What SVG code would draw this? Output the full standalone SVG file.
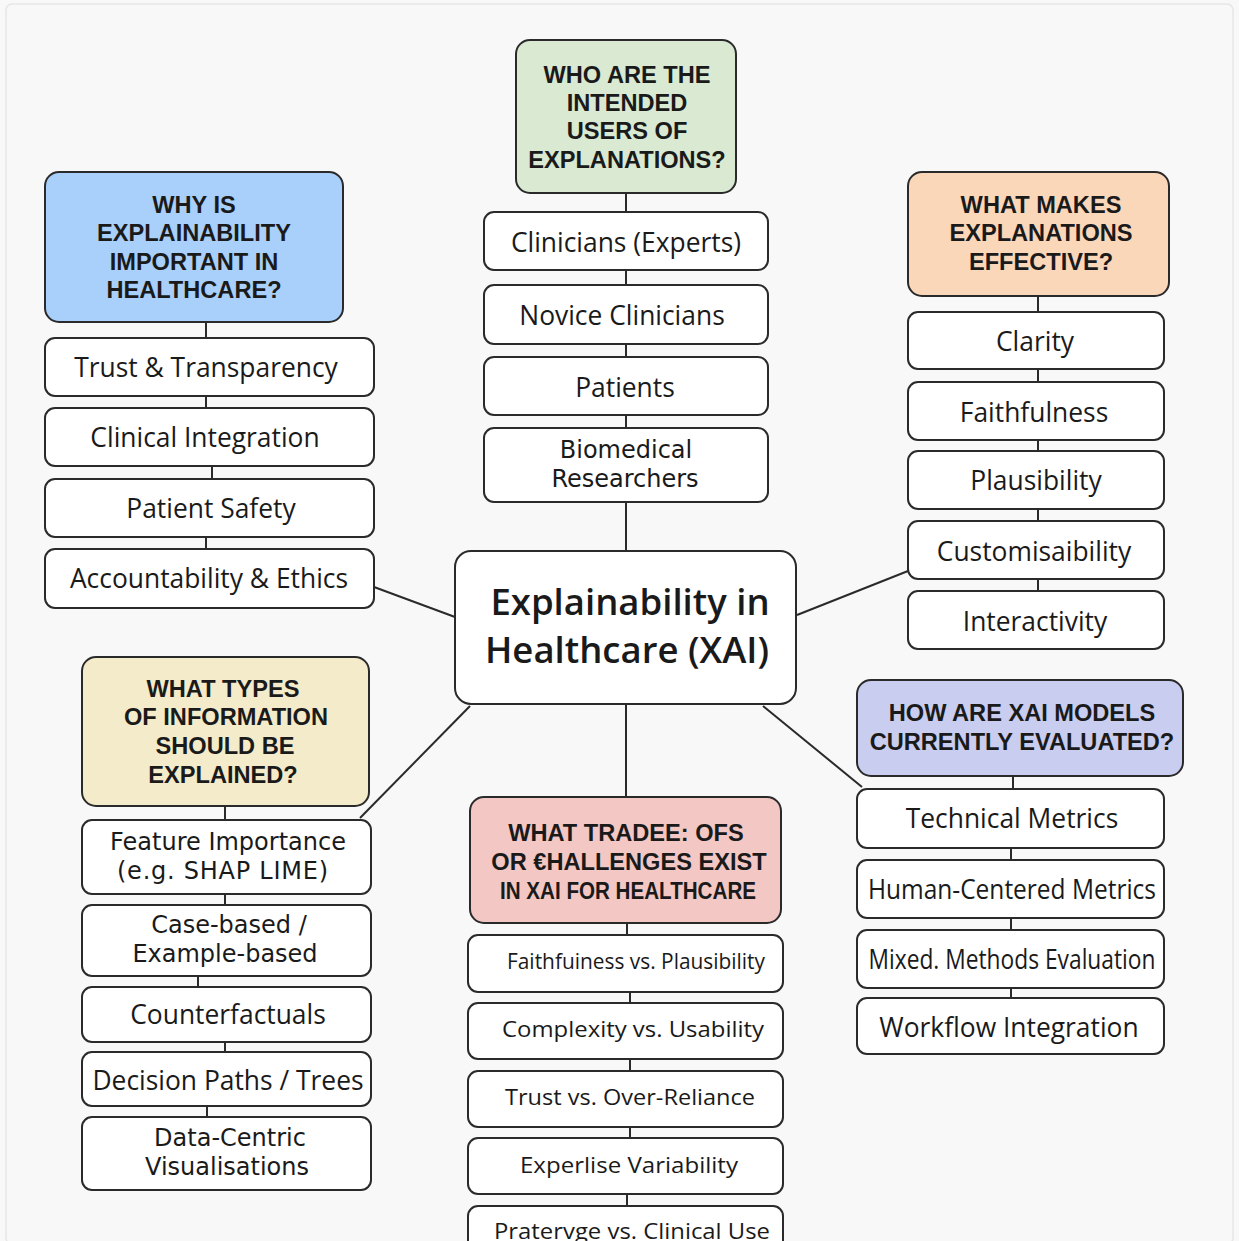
<svg xmlns="http://www.w3.org/2000/svg" width="1239" height="1241" viewBox="0 0 1239 1241">
<style>
.bg{fill:#f8f8f8}
.box{fill:#ffffff;stroke:#2a2a2a;stroke-width:2}
.hdr{stroke:#2a2a2a;stroke-width:2}
.t{font-family:"Open Sans","Noto Sans",sans-serif;font-size:26.4px;fill:#1a1a1a;text-anchor:middle;dominant-baseline:central}
.t2{font-family:"DejaVu Sans","Open Sans",sans-serif;font-size:24px;fill:#1a1a1a;text-anchor:middle;dominant-baseline:central}
.h{font-family:"Liberation Sans",Arial,sans-serif;font-size:23.6px;font-weight:700;fill:#1a1a1a;text-anchor:middle;dominant-baseline:central}
.n{font-family:"Open Sans","Noto Sans",sans-serif;font-size:21px;fill:#1a1a1a;text-anchor:middle;dominant-baseline:central}
.c{font-family:"Open Sans","Noto Sans",sans-serif;font-size:36.5px;font-weight:600;fill:#1a1a1a;text-anchor:middle;dominant-baseline:central}
.ln{stroke:#2a2a2a;stroke-width:2;fill:none}
</style>
<rect class="bg" x="0" y="0" width="1239" height="1241"/>
<rect x="6" y="4" width="1227" height="1240" fill="none" stroke="#e6e6e6" stroke-width="1.5" rx="6"/>

<g id="connectors">
<line class="ln" x1="626" y1="193" x2="626" y2="212"/>
<line class="ln" x1="626" y1="270" x2="626" y2="285"/>
<line class="ln" x1="626" y1="344" x2="626" y2="357"/>
<line class="ln" x1="626" y1="415" x2="626" y2="428"/>
<line class="ln" x1="626" y1="502" x2="626" y2="551"/>
<line class="ln" x1="206" y1="322" x2="206" y2="338"/>
<line class="ln" x1="206" y1="396" x2="206" y2="408"/>
<line class="ln" x1="212" y1="466" x2="212" y2="479"/>
<line class="ln" x1="206" y1="537" x2="206" y2="549"/>
<line class="ln" x1="374" y1="587" x2="455" y2="617"/>
<line class="ln" x1="1038" y1="296" x2="1038" y2="312"/>
<line class="ln" x1="1038" y1="369" x2="1038" y2="382"/>
<line class="ln" x1="1038" y1="440" x2="1038" y2="451"/>
<line class="ln" x1="1038" y1="509" x2="1038" y2="521"/>
<line class="ln" x1="1038" y1="579" x2="1038" y2="591"/>
<line class="ln" x1="797" y1="615" x2="908" y2="571"/>
<line class="ln" x1="225" y1="806" x2="225" y2="820"/>
<line class="ln" x1="225" y1="894" x2="225" y2="905"/>
<line class="ln" x1="198" y1="976" x2="198" y2="987"/>
<line class="ln" x1="225" y1="1042" x2="225" y2="1052"/>
<line class="ln" x1="207" y1="1106" x2="207" y2="1117"/>
<line class="ln" x1="470" y1="706" x2="360" y2="818"/>
<line class="ln" x1="626" y1="704" x2="626" y2="797"/>
<line class="ln" x1="627" y1="923" x2="627" y2="935"/>
<line class="ln" x1="630" y1="992" x2="630" y2="1003"/>
<line class="ln" x1="630" y1="1059" x2="630" y2="1071"/>
<line class="ln" x1="630" y1="1127" x2="630" y2="1138"/>
<line class="ln" x1="627" y1="1194" x2="627" y2="1206"/>
<line class="ln" x1="1013" y1="776" x2="1013" y2="789"/>
<line class="ln" x1="1011" y1="848" x2="1011" y2="860"/>
<line class="ln" x1="1011" y1="918" x2="1011" y2="930"/>
<line class="ln" x1="1011" y1="988" x2="1011" y2="998"/>
<line class="ln" x1="763" y1="706" x2="862" y2="787"/>
</g>

<g id="center">
<rect class="box" x="455" y="551" width="341" height="153" rx="16"/>
<text class="c" x="630" y="601">Explainability in</text>
<text class="c" x="627" y="649">Healthcare (XAI)</text>
</g>

<g id="users-header">
<rect class="hdr" x="516" y="40" width="220" height="153" rx="14" fill="#d9e9d2"/>
<text class="h" x="627" y="75">WHO ARE THE</text>
<text class="h" x="627" y="103">INTENDED</text>
<text class="h" x="627" y="131">USERS OF</text>
<text class="h" x="627" y="160">EXPLANATIONS?</text>
</g>
<g id="users-1"><rect class="box" x="484" y="212" width="284" height="58" rx="10"/><text class="t" x="626" y="242">Clinicians (Experts)</text></g>
<g id="users-2"><rect class="box" x="484" y="285" width="284" height="59" rx="10"/><text class="t" x="622" y="315">Novice Clinicians</text></g>
<g id="users-3"><rect class="box" x="484" y="357" width="284" height="58" rx="10"/><text class="t" x="625" y="387">Patients</text></g>
<g id="users-4"><rect class="box" x="484" y="428" width="284" height="74" rx="10"/><text class="t2" x="626" y="450">Biomedical</text><text class="t2" x="625" y="479">Researchers</text></g>

<g id="why-header">
<rect class="hdr" x="45" y="172" width="298" height="150" rx="14" fill="#a9d0fb"/>
<text class="h" x="194" y="205">WHY IS</text>
<text class="h" x="194" y="233">EXPLAINABILITY</text>
<text class="h" x="194" y="262">IMPORTANT IN</text>
<text class="h" x="194" y="290">HEALTHCARE?</text>
</g>
<g id="why-1"><rect class="box" x="45" y="338" width="329" height="58" rx="10"/><text class="t" x="206" y="367">Trust &amp; Transparency</text></g>
<g id="why-2"><rect class="box" x="45" y="408" width="329" height="58" rx="10"/><text class="t" x="205" y="437">Clinical Integration</text></g>
<g id="why-3"><rect class="box" x="45" y="479" width="329" height="58" rx="10"/><text class="t" x="211" y="508">Patient Safety</text></g>
<g id="why-4"><rect class="box" x="45" y="549" width="329" height="59" rx="10"/><text class="t" x="209" y="578">Accountability &amp; Ethics</text></g>

<g id="effective-header">
<rect class="hdr" x="908" y="172" width="261" height="124" rx="14" fill="#fbd7ba"/>
<text class="h" x="1041" y="205">WHAT MAKES</text>
<text class="h" x="1041" y="233">EXPLANATIONS</text>
<text class="h" x="1041" y="262">EFFECTIVE?</text>
</g>
<g id="eff-1"><rect class="box" x="908" y="312" width="256" height="57" rx="10"/><text class="t" x="1035" y="341">Clarity</text></g>
<g id="eff-2"><rect class="box" x="908" y="382" width="256" height="58" rx="10"/><text class="t" x="1034" y="412">Faithfulness</text></g>
<g id="eff-3"><rect class="box" x="908" y="451" width="256" height="58" rx="10"/><text class="t" x="1036" y="480">Plausibility</text></g>
<g id="eff-4"><rect class="box" x="908" y="521" width="256" height="58" rx="10"/><text class="t" x="1034" y="551">Customisaibility</text></g>
<g id="eff-5"><rect class="box" x="908" y="591" width="256" height="58" rx="10"/><text class="t" x="1035" y="621">Interactivity</text></g>

<g id="types-header">
<rect class="hdr" x="82" y="657" width="287" height="149" rx="14" fill="#f3ebc9"/>
<text class="h" x="223" y="689">WHAT TYPES</text>
<text class="h" x="226" y="717">OF INFORMATION</text>
<text class="h" x="225" y="746">SHOULD BE</text>
<text class="h" x="223" y="775">EXPLAINED?</text>
</g>
<g id="types-1"><rect class="box" x="82" y="820" width="289" height="74" rx="10"/><text class="t2" x="228" y="842">Feature Importance</text><text class="t2" x="222.5" y="871" textLength="211" lengthAdjust="spacing">(e.g.  SHAP LIME)</text></g>
<g id="types-2"><rect class="box" x="82" y="905" width="289" height="71" rx="10"/><text class="t2" x="229" y="925">Case-based /</text><text class="t2" x="225" y="954">Example-based</text></g>
<g id="types-3"><rect class="box" x="82" y="987" width="289" height="55" rx="10"/><text class="t" x="228" y="1014">Counterfactuals</text></g>
<g id="types-4"><rect class="box" x="82" y="1052" width="289" height="54" rx="10"/><text class="t" x="228" y="1080">Decision Paths / Trees</text></g>
<g id="types-5"><rect class="box" x="82" y="1117" width="289" height="73" rx="10"/><text class="t2" x="230" y="1138">Data-Centric</text><text class="t2" x="227" y="1167">Visualisations</text></g>

<g id="tradeoffs-header">
<rect class="hdr" x="470" y="797" width="311" height="126" rx="14" fill="#f3c7c3"/>
<text class="h" x="626" y="833">WHAT TRADEE: OFS</text>
<text class="h" x="629" y="862">OR €HALLENGES EXIST</text>
<text class="h" x="628" y="891" textLength="256" lengthAdjust="spacingAndGlyphs">IN XAI FOR HEALTHCARE</text>
</g>
<g id="trade-1"><rect class="box" x="468" y="935" width="315" height="57" rx="10"/><text class="n" x="636" y="961" textLength="258" lengthAdjust="spacingAndGlyphs">Faithfuiness vs. Plausibility</text></g>
<g id="trade-2"><rect class="box" x="468" y="1003" width="315" height="56" rx="10"/><text class="n" x="633" y="1029" font-size="23" textLength="262" lengthAdjust="spacingAndGlyphs">Complexity vs. Usability</text></g>
<g id="trade-3"><rect class="box" x="468" y="1071" width="315" height="56" rx="10"/><text class="n" x="630" y="1097" font-size="23" textLength="250" lengthAdjust="spacingAndGlyphs">Trust vs. Over-Reliance</text></g>
<g id="trade-4"><rect class="box" x="468" y="1138" width="315" height="56" rx="10"/><text class="n" x="629" y="1165" font-size="23" textLength="218" lengthAdjust="spacingAndGlyphs">Experlise Variability</text></g>
<g id="trade-5"><rect class="box" x="468" y="1206" width="315" height="60" rx="10"/><text class="n" x="632" y="1231" font-size="23" textLength="276" lengthAdjust="spacingAndGlyphs">Pratervge vs. Clinical Use</text></g>

<g id="eval-header">
<rect class="hdr" x="857" y="680" width="326" height="96" rx="14" fill="#c9cdef"/>
<text class="h" x="1022" y="713">HOW ARE XAI MODELS</text>
<text class="h" x="1022" y="742">CURRENTLY EVALUATED?</text>
</g>
<g id="eval-1"><rect class="box" x="857" y="789" width="307" height="59" rx="10"/><text class="t" x="1012" y="818">Technical Metrics</text></g>
<g id="eval-2"><rect class="box" x="857" y="860" width="307" height="58" rx="10"/><text class="t" x="1012" y="889" textLength="288" lengthAdjust="spacingAndGlyphs">Human-Centered Metrics</text></g>
<g id="eval-3"><rect class="box" x="857" y="930" width="307" height="58" rx="10"/><text class="t" x="1012" y="959" textLength="287" lengthAdjust="spacingAndGlyphs">Mixed. Methods Evaluation</text></g>
<g id="eval-4"><rect class="box" x="857" y="998" width="307" height="56" rx="10"/><text class="t" x="1009" y="1027">Workflow Integration</text></g>
</svg>
